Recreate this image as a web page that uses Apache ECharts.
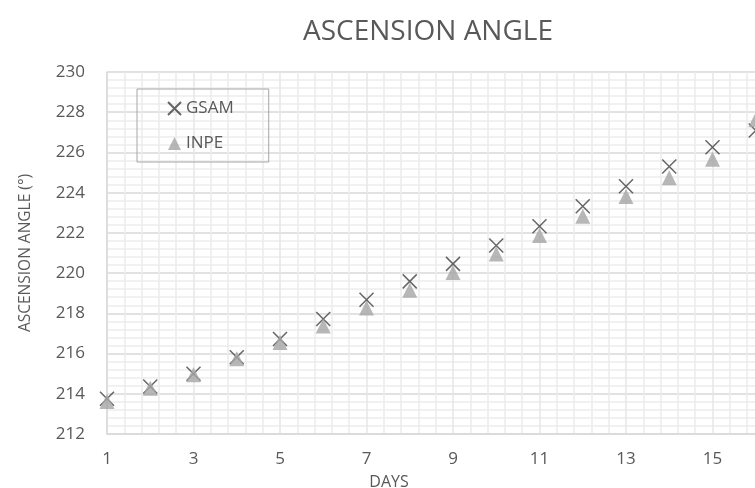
<!DOCTYPE html>
<html>
<head>
<meta charset="utf-8">
<script src="https://cdn.jsdelivr.net/npm/echarts@6/dist/echarts.min.js"></script>
<style>
html, body { margin: 0; padding: 0; background: #fff; }
#echart { width: 755px; height: 488px; }
</style>
</head>
<body>
<div id="echart"></div>
<script>
// data
var days = [1, 2, 3, 4, 5, 6, 7, 8, 9, 10, 11, 12, 13, 14, 15, 16];
var gsam = [213.75, 214.36, 215.0, 215.82, 216.72, 217.72, 218.68, 219.59, 220.46, 221.37, 222.33, 223.32, 224.32, 225.3, 226.26, 227.09];
var inpe = [213.62, 214.28, 214.94, 215.74, 216.55, 217.37, 218.27, 219.15, 220.03, 220.95, 221.87, 222.83, 223.81, 224.74, 225.66, 227.62];
var yTicks = { min: 212, max: 230, step: 2 };
var firstDay = 1;   // x axis starts at day 1, ticks every 2 days

var textColor = '#595959';
var font = 'Open Sans';

function points(values) {
    // axis runs from 0 so that its ticks land on odd days
    return days.map(function (d, i) { return [d - firstDay, values[i]]; });
}

var myChart = echarts.init(document.getElementById('echart'));

option = {
    backgroundColor: '#fff',
    animation: false,
    title: {
        text: 'ASCENSION ANGLE',
        left: 298,
        top: 13,
        textStyle: { color: textColor, fontFamily: font, fontSize: 28, fontWeight: 'normal' }
    },
    legend: {
        orient: 'vertical',
        left: 137,
        top: 89,
        padding: [11, 35, 10, 30],
        itemGap: 18,
        itemWidth: 13,
        itemHeight: 13,
        borderColor: '#a6a6a6',
        borderWidth: 1,
        textStyle: { color: textColor, fontFamily: font, fontSize: 17 },
        data: ['GSAM', 'INPE']
    },
    grid: {
        left: 107,
        width: 692,   // the plot runs on past the right edge of the picture
        top: 72,
        bottom: 54,
        containLabel: false,
        outerBoundsMode: 'none'
    },
    xAxis: {
        type: 'value',
        min: 0,
        max: 16,
        interval: 2,
        name: 'DAYS',
        nameLocation: 'middle',
        nameGap: 40,
        nameTextStyle: { color: textColor, fontFamily: font, fontSize: 16, padding: [0, 128, 0, 0] },
        axisLine: { show: true, lineStyle: { color: '#d9d9d9', width: 1.5 } },
        axisTick: { show: false },
        axisLabel: {
            color: textColor, fontFamily: font, fontSize: 17, margin: 17,
            formatter: function (v) { return v + firstDay; }
        },
        splitLine: { show: true, lineStyle: { color: '#e6e6e6', width: 1.5 } },
        minorTick: { show: false, splitNumber: 5 },
        minorSplitLine: { show: true, lineStyle: { color: '#ececec', width: 1.5 } }
    },
    yAxis: {
        type: 'value',
        min: yTicks.min,
        max: yTicks.max,
        interval: yTicks.step,
        name: 'ASCENSION ANGLE (°)',
        nameLocation: 'middle',
        nameGap: 73,
        nameTextStyle: { color: textColor, fontFamily: font, fontSize: 15.5 },
        axisLine: { show: true, lineStyle: { color: '#d9d9d9', width: 1.5 } },
        axisTick: { show: false },
        axisLabel: { color: textColor, fontFamily: font, fontSize: 17, margin: 22 },
        splitLine: { show: true, lineStyle: { color: '#d9d9d9', width: 1.5 } },
        minorTick: { show: false, splitNumber: 5 },
        minorSplitLine: { show: true, lineStyle: { color: '#ededed', width: 1.5 } }
    },
    series: [
        {
            name: 'GSAM',
            type: 'scatter',
            symbol: 'path://M0,0L10,10M10,0L0,10',
            symbolSize: 14,
            itemStyle: { color: 'rgba(0,0,0,0)', borderColor: '#404040', borderWidth: 1.5 },
            data: points(gsam)
        },
        {
            name: 'INPE',
            type: 'scatter',
            symbol: 'triangle',
            symbolSize: 15,
            itemStyle: { color: '#a5a5a5' },
            data: points(inpe)
        }
    ]
};
myChart.setOption(option);
</script>
</body>
</html>
